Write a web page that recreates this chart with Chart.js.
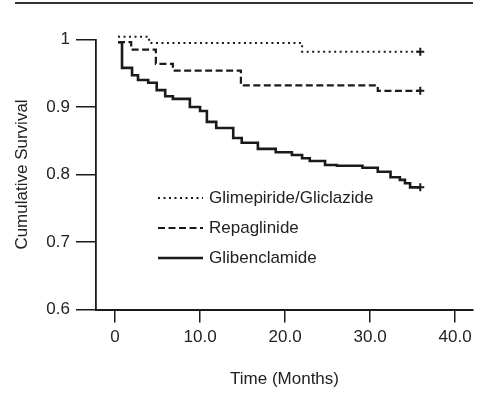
<!DOCTYPE html>
<html>
<head>
<meta charset="utf-8">
<script src="https://cdn.jsdelivr.net/npm/chart.js@4.4.1/dist/chart.umd.min.js"></script>
<style>
  html, body { margin: 0; padding: 0; background: #fff; }
  #wrap { position: relative; width: 483px; height: 395px; }
  #rule { position: absolute; left: 15px; top: 2px; width: 458px; height: 2px; background: #333; }
</style>
</head>
<body>
<div id="wrap">
  <div id="rule"></div>
  <canvas id="kmChart" width="483" height="395"></canvas>
</div>
<script>
// Kaplan-Meier steps: time (months) where each level starts, and survival at that level
const glimTime = [0.35, 4.0, 22.0, 35.9];
const glimSurv = [1.004, 0.995, 0.982, 0.982];

const repaTime = [0.35, 1.9, 4.8, 6.8, 14.8, 30.9, 35.9];
const repaSurv = [0.996, 0.985, 0.964, 0.954, 0.932, 0.924, 0.924];

const glibTime = [0.35, 0.82, 2.0, 2.7, 3.9, 4.9, 5.9, 6.8, 8.8, 10.0, 10.8, 11.9, 13.9, 14.9,
                  16.8, 18.9, 20.8, 22.0, 22.9, 24.7, 26.1, 29.1, 30.9, 32.4, 33.5, 34.1, 34.7, 35.9];
const glibSurv = [0.996, 0.958, 0.947, 0.940, 0.936, 0.925, 0.916, 0.912, 0.900, 0.894, 0.878, 0.869, 0.854, 0.847,
                  0.838, 0.833, 0.829, 0.824, 0.820, 0.814, 0.813, 0.810, 0.804, 0.796, 0.792, 0.787, 0.781, 0.781];

const seriesNames = ['Glimepiride/Gliclazide', 'Repaglinide', 'Glibenclamide'];
const xTicks = [0, 10, 20, 30, 40];
const yTicks = [0.6, 0.7, 0.8, 0.9, 1];

const FONT = '"Liberation Sans", Arial, sans-serif';
const INK = '#1a1a1a';

function toPoints(times, surv) {
    return times.map((t, i) => ({ x: t, y: surv[i] }));
}

// censor "+" only on the last point of each curve
function endMarker(size) {
    return ctx => ctx.dataIndex === ctx.dataset.data.length - 1 ? size : 0;
}

function makeSeries(label, times, surv, dash, width) {
    return {
        label: label,
        data: toPoints(times, surv),
        stepped: 'before',
        borderColor: INK,
        backgroundColor: INK,
        borderWidth: width,
        borderDash: dash,
        pointStyle: 'cross',
        pointRadius: endMarker(4),
        pointBorderWidth: 2,
        pointBorderColor: INK,
        clip: false,
        fill: false
    };
}

// legend drawn inside the plot area
const insideLegend = {
    id: 'insideLegend',
    afterDatasetsDraw(chart) {
        const { ctx, chartArea } = chart;
        const lineX = chartArea.left + 62;
        const lineW = 45;
        const textX = chartArea.left + 113;
        let rowY = chartArea.top + 158.5;
        ctx.save();
        ctx.font = '17px ' + FONT;
        ctx.textBaseline = 'middle';
        chart.data.datasets.forEach(ds => {
            ctx.strokeStyle = INK;
            ctx.lineWidth = ds.borderWidth;
            ctx.setLineDash(ds.borderDash || []);
            ctx.beginPath();
            ctx.moveTo(lineX, rowY);
            ctx.lineTo(lineX + lineW, rowY);
            ctx.stroke();
            ctx.setLineDash([]);
            ctx.fillStyle = '#222';
            ctx.fillText(ds.label, textX, rowY);
            rowY += 30;
        });
        ctx.restore();
    }
};

new Chart(document.getElementById('kmChart'), {
    type: 'line',
    data: {
        datasets: [
            makeSeries(seriesNames[0], glimTime, glimSurv, [2, 3.5], 2),
            makeSeries(seriesNames[1], repaTime, repaSurv, [7, 3.5], 2.2),
            makeSeries(seriesNames[2], glibTime, glibSurv, [], 2.6)
        ]
    },
    options: {
        responsive: false,
        animation: false,
        layout: { padding: { top: 39.5, right: 10, left: 0, bottom: 0 } },
        plugins: {
            legend: { display: false },
            tooltip: { enabled: false }
        },
        scales: {
            x: {
                type: 'linear',
                min: -2.24,
                max: 42.1,
                afterBuildTicks: scale => { scale.ticks = xTicks.map(v => ({ value: v })); },
                afterFit: scale => { scale.height = 85.5; },
                ticks: {
                    color: '#222',
                    font: { family: FONT, size: 17 },
                    padding: 5,
                    maxRotation: 0,
                    callback: v => v === 0 ? '0' : v.toFixed(1)
                },
                grid: { drawOnChartArea: false, drawTicks: true, tickLength: 13, color: INK, lineWidth: 1.5 },
                border: { display: true, color: INK, width: 2 },
                title: {
                    display: true,
                    text: 'Time (Months)',
                    color: '#222',
                    font: { family: FONT, size: 17 },
                    padding: { top: 0, bottom: 5 }
                }
            },
            y: {
                min: 0.6,
                max: 1,
                afterBuildTicks: scale => { scale.ticks = yTicks.map(v => ({ value: v })); },
                afterFit: scale => { scale.width = 96; },
                ticks: {
                    color: '#222',
                    font: { family: FONT, size: 17 },
                    padding: 6,
                    callback: v => v === 1 ? '1' : v.toFixed(1)
                },
                grid: { drawOnChartArea: false, drawTicks: true, tickLength: 20, color: INK, lineWidth: 1.5 },
                border: { display: true, color: INK, width: 1.8 },
                title: {
                    display: true,
                    text: 'Cumulative Survival',
                    color: '#222',
                    font: { family: FONT, size: 17 },
                    padding: { top: 12, bottom: 0 }
                }
            }
        }
    },
    plugins: [insideLegend]
});
</script>
</body>
</html>
